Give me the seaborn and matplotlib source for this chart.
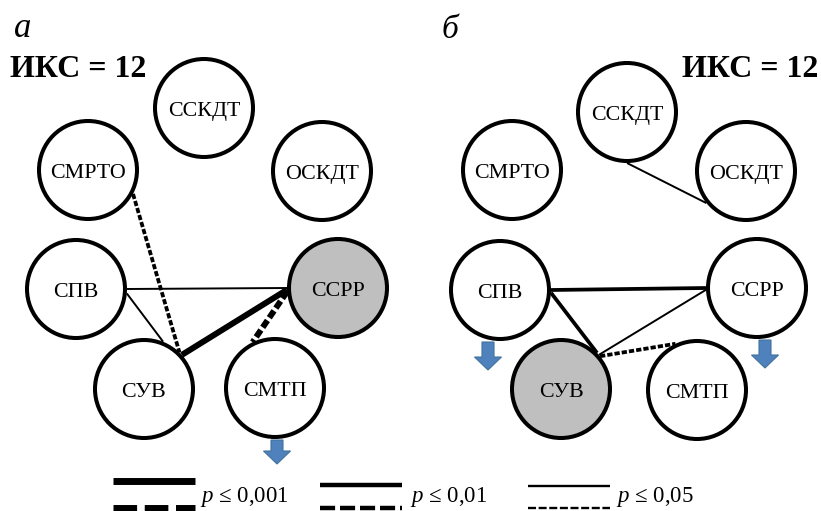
import matplotlib.pyplot as plt
import numpy as np
import pandas as pd
import seaborn as sns

# nodes of the two correlation graphs
nodes = ["ССКДТ", "СМРТО", "ОСКДТ", "СПВ", "ССРР", "СУВ", "СМТП"]
x_a = [204, 88, 322, 76, 338, 144, 275]
y_a = [108, 170, 171, 289, 288, 389, 388]
x_b = [627, 512, 746, 500, 757, 561, 697]
y_b = [112, 170, 171, 290, 288, 389, 390]
marked_a = "ССРР"
marked_b = "СУВ"

# links: from, to, anchor angles on the circles, p level, dashed
links_a_from = ["СПВ", "СПВ", "СМРТО", "ССРР", "ССРР"]
links_a_to = ["ССРР", "СУВ", "СУВ", "СУВ", "СМТП"]
links_a_ang = [(0, 180), (5, -68), (28, -46), (178, -42), (176, -116)]
links_a_p = ["0,05", "0,05", "0,01", "0,001", "0,001"]
links_a_dash = [False, False, True, False, True]

links_b_from = ["ССКДТ", "СПВ", "СПВ", "ССРР", "СУВ"]
links_b_to = ["ОСКДТ", "ССРР", "СУВ", "СУВ", "СМТП"]
links_b_ang = [(90, 141), (0, 180), (3, -45), (178, -42), (-40, -115)]
links_b_p = ["0,05", "0,01", "0,01", "0,05", "0,01"]
links_b_dash = [False, False, False, False, True]

# down arrows under nodes (node, panel)
arrow_nodes = [("СМТП", "а"), ("СПВ", "б"), ("ССРР", "б")]

p_levels = ["0,001", "0,01", "0,05"]
index_a = 12
index_b = 12

sns.set_theme(style="white")
plt.rcParams["font.family"] = ["Liberation Serif", "DejaVu Serif"]
plt.rcParams["text.color"] = "black"
plt.rcParams["mathtext.fontset"] = "custom"
plt.rcParams["mathtext.it"] = "Liberation Serif:italic"
plt.rcParams["mathtext.rm"] = "Liberation Serif"

fig = plt.figure(figsize=(8.21, 5.11), dpi=100)
ax = fig.add_axes([0, 0, 1, 1])

df = pd.DataFrame({
    "node": nodes + nodes,
    "x": x_a + x_b,
    "y": y_a + y_b,
    "panel": ["а"] * len(nodes) + ["б"] * len(nodes),
})
df["fill"] = np.where(
    ((df.panel == "а") & (df.node == marked_a)) | ((df.panel == "б") & (df.node == marked_b)),
    "marked", "plain")

R = 49  # radius in px (line centre)
s = (2 * R * 0.72) ** 2
sns.scatterplot(data=df, x="x", y="y", hue="fill",
                palette={"marked": "#bfbfbf", "plain": "white"},
                s=s, edgecolor="black", linewidth=2.9, legend=False,
                ax=ax, zorder=3)

for _, r in df.iterrows():
    ax.text(r.x, r.y + 8, r.node, ha="center", va="baseline", fontsize=15.8, zorder=4)

lw_net = {"0,001": 4.3, "0,01": 2.7, "0,05": 1.4}
pos = df.set_index(["panel", "node"])
links = [("а", links_a_from, links_a_to, links_a_ang, links_a_p, links_a_dash),
         ("б", links_b_from, links_b_to, links_b_ang, links_b_p, links_b_dash)]
for panel, src, dst, ang, pl, dsh in links:
    for a, b, (t1, t2), p, d in zip(src, dst, ang, pl, dsh):
        x1 = pos.loc[(panel, a), "x"] + 51 * np.cos(np.radians(t1))
        y1 = pos.loc[(panel, a), "y"] + 51 * np.sin(np.radians(t1))
        x2 = pos.loc[(panel, b), "x"] + 51 * np.cos(np.radians(t2))
        y2 = pos.loc[(panel, b), "y"] + 51 * np.sin(np.radians(t2))
        line, = ax.plot([x1, x2], [y1, y2], color="black", lw=lw_net[p],
                        solid_capstyle="butt", dash_capstyle="butt", zorder=2)
        if d:
            line.set_dashes((1.4, 0.55))

for n, panel in arrow_nodes:
    ax_x = pos.loc[(panel, n), "x"]
    ax_y = pos.loc[(panel, n), "y"]
    off = 0 if n == "СМТП" else 4
    ax_x = ax_x + (2 if n == "СМТП" else (-12 if n == "СПВ" else 8))
    top = ax_y + 52
    ax.arrow(ax_x, top, 0, 24 + off, width=12, head_width=27, head_length=13,
             length_includes_head=True, fc="#4f81bd", ec="#41719c", lw=0.8, zorder=4)

# panel letters and index
ax.text(14, 37, "а", fontsize=25, fontstyle="italic", va="baseline")
ax.text(442, 38, "б", fontsize=24, fontstyle="italic", va="baseline")
ax.text(10, 77, f"ИКС = {index_a}", fontsize=23, fontweight="bold", va="baseline")
ax.text(818, 77, f"ИКС = {index_b}", fontsize=23, fontweight="bold", va="baseline", ha="right")

# legend
lw_leg = {"0,001": 5.0, "0,01": 3.2, "0,05": 1.7}
leg_x = [113, 320, 528]
leg_y = [481.5, 485.5, 486.5]
txt_x = [200, 410, 616]
for p, x0, y0, tx in zip(p_levels, leg_x, leg_y, txt_x):
    ax.plot([x0, x0 + 82], [y0, y0], color="black", lw=lw_leg[p], solid_capstyle="butt")
    dl, = ax.plot([x0, x0 + 82], [508, 508], color="black", lw=lw_leg[p],
                  dash_capstyle="butt")
    dl.set_dashes((3.4, 1.1))
    ax.text(tx, 502, f"$p$ ≤ {p}", fontsize=16.5, va="baseline")

ax.set_xlim(0, 821)
ax.set_ylim(511, 0)
ax.set_axis_off()
fig.savefig("out.png", dpi=100)
